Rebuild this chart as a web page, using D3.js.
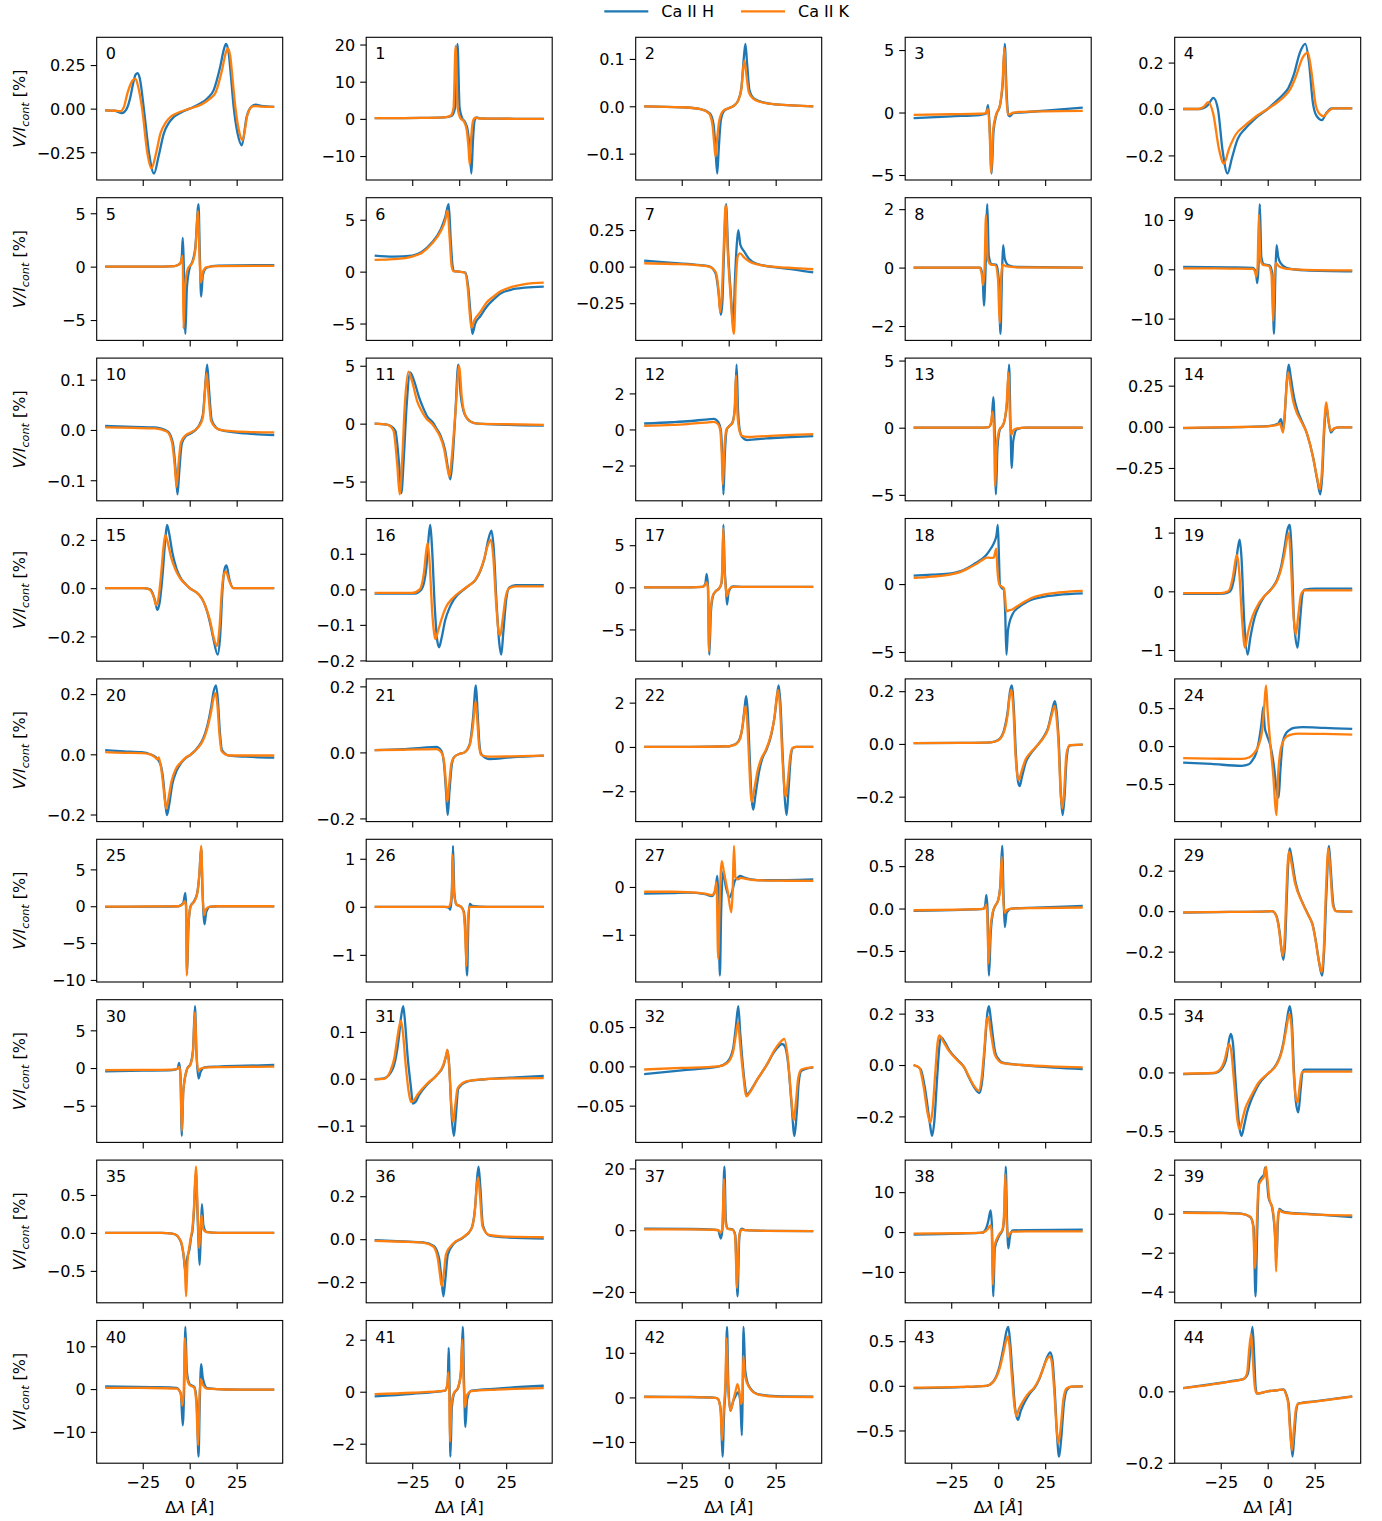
<!DOCTYPE html>
<html><head><meta charset="utf-8">
<script src="https://cdn.jsdelivr.net/npm/d3@7"></script>
<style>
body{margin:0;background:#fff}
svg{display:block}
text{font-family:"DejaVu Sans",sans-serif;fill:#000}
</style>
</head><body>
<svg id="c" width="1382" height="1521"></svg>
<script>
const seriesNames = ["Ca II H", "Ca II K"];
const seriesColors = ["#1f77b4", "#ff7f0e"];
const xTickValues = [-25, 0, 25];
const xLabelText = ["Δ", "λ", " [", "Å", "]"];
const yLabelParts = ["V/I", "cont", " [%]"];

const yTickLabels = [
 ["−0.25","0.00","0.25"],["−10","0","10","20"],["−0.1","0.0","0.1"],["−5","0","5"],["−0.2","0.0","0.2"],
 ["−5","0","5"],["−5","0","5"],["−0.25","0.00","0.25"],["−2","0","2"],["−10","0","10"],
 ["−0.1","0.0","0.1"],["−5","0","5"],["−2","0","2"],["−5","0","5"],["−0.25","0.00","0.25"],
 ["−0.2","0.0","0.2"],["−0.2","−0.1","0.0","0.1"],["−5","0","5"],["−5","0"],["−1","0","1"],
 ["−0.2","0.0","0.2"],["−0.2","0.0","0.2"],["−2","0","2"],["−0.2","0.0","0.2"],["−0.5","0.0","0.5"],
 ["−10","−5","0","5"],["−1","0","1"],["−1","0"],["−0.5","0.0","0.5"],["−0.2","0.0","0.2"],
 ["−5","0","5"],["−0.1","0.0","0.1"],["−0.05","0.00","0.05"],["−0.2","0.0","0.2"],["−0.5","0.0","0.5"],
 ["−0.5","0.0","0.5"],["−0.2","0.0","0.2"],["−20","0","20"],["−10","0","10"],["−4","−2","0","2"],
 ["−10","0","10"],["−2","0","2"],["−10","0","10"],["−0.5","0.0","0.5"],["−0.2","0.0"]
];

// Ca II H profiles: [Δλ (Å), V/I (%)]
const caH = [
 [[-45,-0.01],[-40,-0.012],[-36,-0.025],[-33.5,0.0],[-31.5,0.07],[-30,0.15],[-28.8,0.195],[-27.7,0.203],[-26.5,0.17],[-24.3,-0.01],[-21.6,-0.258],[-19,-0.372],[-16.5,-0.27],[-13.8,-0.143],[-11,-0.08],[-8.5,-0.048],[-4.1,-0.019],[0,0],[5.6,0.029],[9.5,0.06],[12.7,0.105],[16.2,0.239],[18.2,0.34],[19.3,0.372],[20.6,0.33],[22,0.18],[23.4,0.01],[25.5,-0.143],[27.7,-0.21],[30.3,-0.048],[33,0.013],[35.2,0.023],[38,0.016],[45,0.01]],
 [[-45,0.2],[-20,0.25],[-8,0.4],[-4,0.8],[-2.2,3],[-0.9,20.2],[0.2,3],[1.5,0.3],[3,-0.8],[4.5,-3],[5.7,-9],[6.5,-14.7],[7.3,-6],[8.2,-0.5],[9.3,0.4],[11,0.15],[20,0.05],[45,0]],
 [[-45,0.0],[-25,-0.002],[-15,-0.006],[-10,-0.015],[-8,-0.04],[-6.9,-0.1],[-6.1,-0.142],[-5.3,-0.09],[-4.2,-0.03],[-2.5,-0.01],[0,-0.004],[3,0.002],[5,0.012],[6.8,0.04],[8,0.1],[8.9,0.132],[9.8,0.09],[11,0.035],[13,0.018],[17,0.01],[25,0.004],[45,0.0]],
 [[-45,-0.45],[-25,-0.3],[-10,-0.2],[-6.5,-0.1],[-5.4,0.6],[-4.6,-1],[-3.5,-4.88],[-2.5,-1.5],[-1,-0.2],[1,0.6],[2.5,2.5],[3.5,5.5],[4.5,1.5],[5.4,-0.2],[6.3,-0.3],[8,-0.05],[12,0.0],[25,0.15],[45,0.4]],
 [[-45,0.0],[-36,0.0],[-32,0.015],[-28.9,0.048],[-26.5,0.0],[-24,-0.18],[-21.4,-0.278],[-19,-0.21],[-16,-0.13],[-12,-0.085],[-9.3,-0.062],[-5,-0.03],[0,0.0],[4,0.03],[8,0.06],[11,0.09],[14,0.15],[17,0.24],[20,0.281],[22,0.2],[24,0.03],[26,-0.03],[28.9,-0.048],[31,-0.02],[34,0.003],[45,0.003]],
 [[-45,0.0],[-20,0.0],[-8,0.05],[-5,0.3],[-4.2,1.0],[-3.7,2.7],[-3.2,0.5],[-2.3,-6.3],[-1.5,-2],[0,-0.1],[1.5,0.5],[3,1.8],[4.7,5.85],[5.4,1.0],[6.1,-2.8],[7,-0.8],[9,-0.1],[15,0.1],[45,0.15]],
 [[-45,1.55],[-35,1.45],[-25,1.55],[-20,1.9],[-14.5,2.8],[-9.8,4.1],[-7.5,5.2],[-5.6,6.5],[-4.5,3],[-3.5,0.5],[-2.8,0.05],[0,0.0],[3.3,-0.1],[4.8,-1.5],[6,-4],[7,-6.0],[8.5,-5],[11.2,-4.3],[14.5,-3.4],[18.2,-2.7],[22,-2.1],[27.5,-1.75],[35,-1.55],[45,-1.45]],
 [[-45,0.041],[-30,0.025],[-15,0.01],[-10,0.0],[-7,-0.045],[-5.2,-0.2],[-4.2,-0.33],[-3.4,-0.25],[-2.5,0.1],[-1.4,0.427],[-0.3,0.1],[1.2,-0.2],[2.4,-0.41],[3.3,-0.1],[4.3,0.15],[5.1,0.25],[6.2,0.15],[8.4,0.1],[11,0.05],[15.4,0.018],[25,-0.005],[35,-0.02],[45,-0.04]],
 [[-45,0.0],[-15,0.0],[-9.5,0.0],[-8.3,-0.3],[-7.6,-1.3],[-6.8,-0.2],[-5.8,2.17],[-5,0.4],[-3.5,0.12],[-1,0.1],[0.3,-0.4],[1.2,-2.27],[2,-0.3],[2.6,0.77],[3.5,0.3],[5.5,0.08],[10,0.02],[45,0.0]],
 [[-45,0.5],[-20,0.4],[-8,0.3],[-6.3,-0.5],[-5.6,-2.8],[-4.9,0.5],[-4.2,13.2],[-3.4,2.5],[-2,1.0],[1,0.8],[2.5,-1],[3.3,-13.1],[4.1,-1],[4.7,4.9],[5.6,2.5],[7,1.2],[10,0.3],[20,-0.2],[45,-0.4]],
 [[-45,0.008],[-30,0.006],[-18.6,0.005],[-11.7,-0.003],[-8.9,-0.027],[-7.5,-0.08],[-6.5,-0.128],[-5.5,-0.08],[-4.2,-0.027],[-2,-0.012],[0,-0.008],[4.7,0.007],[7,0.03],[8.3,0.09],[9.3,0.13],[10.3,0.08],[11.7,0.02],[14,0.005],[16.3,0.0],[30,-0.007],[45,-0.01]],
 [[-45,0.0],[-38,-0.1],[-34,-0.6],[-32,-3.5],[-30.8,-6.0],[-29.5,-3],[-28,1.5],[-26.1,4.43],[-24,3.7],[-21.4,2.3],[-19,1.3],[-16.8,0.57],[-14,0.1],[-12.1,-0.43],[-10,-1.0],[-7.5,-2.3],[-5.8,-4.0],[-4.7,-4.8],[-3.5,-3],[-2,1.0],[-0.5,5.1],[0.8,2.5],[2.8,0.86],[6.5,0.14],[10,0.0],[25,-0.1],[45,-0.17]],
 [[-45,0.33],[-30,0.4],[-20,0.47],[-12.6,0.55],[-7.9,0.59],[-5.5,0.4],[-4.2,-0.04],[-3.4,-1.5],[-2.8,-3.6],[-2.1,-1.5],[-1,0.0],[0,0.15],[2,0.4],[3.3,1.2],[4.2,3.6],[5,1.0],[6,-0.1],[7,-0.4],[9.8,-0.59],[14,-0.55],[20,-0.5],[30,-0.44],[45,-0.37]],
 [[-45,0.0],[-10,0.0],[-5,0.05],[-3.5,0.5],[-2.6,2.28],[-1.9,0.0],[-1.2,-4.96],[-0.4,-1.5],[1,-0.1],[2.1,0.07],[3.5,0.6],[4.8,2.0],[5.8,4.7],[6.5,0.5],[7.2,-3.0],[8,-1.0],[10,-0.1],[15,0.0],[45,0.0]],
 [[-45,-0.008],[-20,-0.003],[0,0.004],[5.6,0.02],[7,0.047],[8.4,-0.014],[9.5,0.15],[10.3,0.3],[11.2,0.378],[12.3,0.3],[14,0.18],[15.8,0.1],[17.7,0.047],[21,-0.045],[24.2,-0.187],[26.5,-0.33],[28,-0.41],[29,-0.3],[30.2,0.0],[31.2,0.128],[32.3,0.04],[33.6,-0.035],[35.5,-0.01],[38,-0.004],[45,-0.004]],
 [[-45,0.0],[-25,0.0],[-21,-0.005],[-18.5,-0.05],[-17.2,-0.09],[-16,-0.06],[-14.5,0.05],[-13,0.2],[-12.1,0.262],[-11,0.23],[-9.3,0.15],[-7,0.08],[-4.7,0.041],[-2,0.015],[0,0.0],[4.7,-0.025],[7,-0.05],[9.3,-0.097],[11,-0.15],[12.6,-0.21],[14.9,-0.276],[16.2,-0.2],[17.5,0.0],[18.6,0.08],[19.6,0.094],[21,0.04],[23.3,0.0],[30,0.0],[45,0.0]],
 [[-45,-0.012],[-30,-0.012],[-23.8,-0.012],[-20,0.0],[-17.5,0.06],[-16.2,0.15],[-15.4,0.181],[-14.5,0.12],[-13,-0.05],[-11.8,-0.14],[-10.7,-0.163],[-9.5,-0.14],[-7.5,-0.088],[-5,-0.05],[-2.8,-0.028],[1.9,-0.003],[5,0.01],[8.9,0.028],[11.5,0.055],[13.5,0.088],[15.5,0.14],[17.2,0.165],[18.3,0.12],[20,-0.05],[21.3,-0.15],[22.4,-0.184],[23.5,-0.12],[25,-0.03],[26.6,0.005],[30,0.012],[45,0.012]],
 [[-45,0.0],[-20,0.0],[-14,0.05],[-12.5,0.4],[-11.7,1.58],[-11,0.0],[-10.3,-8.0],[-9.5,-3],[-8.3,-1.0],[-7,-0.5],[-5,-0.1],[-3.8,0.5],[-3.3,2.5],[-2.8,7.4],[-2.2,2.5],[-1.5,0.0],[-0.9,-2.05],[0,-0.5],[2.3,0.1],[8,0.05],[45,0.05]],
 [[-45,0.62],[-35,0.7],[-25,0.79],[-20,0.95],[-15.6,1.24],[-12,1.55],[-8.6,1.86],[-6,2.2],[-4,2.6],[-2,3.1],[-0.9,3.6],[-0.2,4.35],[0.4,2],[0.9,-0.05],[2,-0.3],[3,-0.4],[3.7,-2],[4.4,-5.2],[5.2,-3.4],[7.7,-2.2],[11,-1.7],[14.7,-1.36],[19,-1.1],[24,-0.94],[32,-0.8],[45,-0.69]],
 [[-45,-0.045],[-30,-0.045],[-23.3,-0.04],[-20,0.0],[-17.5,0.3],[-15.8,0.75],[-14.9,0.88],[-14,0.6],[-12.5,-0.5],[-10.7,-1.08],[-9.3,-0.8],[-7,-0.45],[-4.7,-0.25],[-2.3,-0.11],[2.3,0.057],[5,0.2],[7,0.4],[9,0.75],[10.5,1.05],[11.7,1.13],[12.7,0.7],[14,-0.5],[15.9,-0.96],[17.2,-0.5],[18.5,-0.05],[19.6,0.03],[25,0.045],[45,0.045]],
 [[-45,0.014],[-35,0.01],[-25.6,0.007],[-21,0.0],[-18,-0.01],[-15.4,-0.036],[-14,-0.09],[-13,-0.16],[-12.1,-0.202],[-11,-0.17],[-9.3,-0.1],[-7,-0.055],[-4.7,-0.03],[-2,-0.012],[0,-0.004],[4.7,0.026],[7,0.05],[9.3,0.092],[11.5,0.16],[12.8,0.21],[14,0.229],[15,0.18],[16,0.08],[17.2,0.014],[21,-0.004],[30,-0.008],[45,-0.011]],
 [[-45,0.007],[-30,0.01],[-20,0.014],[-12.1,0.017],[-9.5,0.005],[-8,-0.04],[-7,-0.12],[-6.1,-0.19],[-5.2,-0.12],[-4,-0.04],[-2.8,-0.015],[0,-0.005],[2.8,0.0],[5.6,0.025],[7.3,0.1],[8.9,0.203],[9.8,0.12],[10.7,0.03],[11.7,-0.005],[15.9,-0.02],[27.5,-0.015],[45,-0.01]],
 [[-45,0.0],[-20,0.0],[0,0.03],[1.4,0.06],[4,0.15],[6,0.4],[7.5,1.0],[8.5,1.8],[9.3,2.29],[10.2,1.5],[11.2,-0.5],[12.2,-2.3],[13.1,-2.83],[14.2,-2.2],[16.3,-1.05],[18,-0.5],[20,-0.15],[22.8,0.6],[24.5,1.4],[25.7,2.3],[26.6,2.78],[27.5,2.0],[28.8,-0.5],[30,-2.5],[30.8,-3.08],[31.8,-2.0],[33,-0.5],[34,-0.07],[36,0.0],[45,0.0]],
 [[-45,0.003],[-20,0.004],[-3.9,0.006],[0,0.015],[3,0.05],[5,0.12],[6.3,0.2],[7.2,0.222],[8.2,0.15],[9.5,-0.05],[10.5,-0.14],[11.4,-0.16],[12.5,-0.13],[14.7,-0.069],[17,-0.04],[19.3,-0.019],[21.5,0.0],[24,0.025],[26.5,0.06],[28.5,0.12],[30.1,0.162],[31,0.13],[32.3,0.0],[33.4,-0.2],[34.3,-0.27],[35.3,-0.2],[36.5,-0.05],[38,-0.006],[45,-0.003]],
 [[-45,-0.217],[-30,-0.235],[-14,-0.26],[-10,-0.24],[-8.4,-0.196],[-6,-0.08],[-4.7,0.065],[-3.3,0.3],[-2.3,0.52],[-1.6,0.25],[-0.5,0.15],[1.5,0.0],[3.5,-0.3],[4.8,-0.6],[5.8,-0.68],[6.8,-0.3],[8,0.05],[9.3,0.15],[11.5,0.21],[14,0.24],[18.6,0.25],[30,0.24],[45,0.226]],
 [[-45,-0.1],[-20,-0.05],[-6,0.0],[-3.5,0.4],[-2.3,1.8],[-1.9,0.0],[-1.4,-9.15],[-0.7,-3],[0.5,0.0],[2.3,0.67],[4,1.8],[5.2,4.5],[6.1,7.9],[6.9,1.5],[7.9,-2.45],[8.8,-0.8],[10.7,-0.1],[15,0.0],[45,0.0]],
 [[-45,0.0],[-20,0.0],[-8,0.0],[-5.5,-0.02],[-4.7,-0.06],[-4,0.2],[-3.3,1.27],[-2.6,0.3],[-1.5,0.05],[1,0.0],[2.5,-0.1],[3.3,-0.5],[4.2,-1.43],[4.9,-0.3],[5.6,0.06],[7,0.02],[15,0.0],[45,0.0]],
 [[-45,-0.14],[-30,-0.13],[-21.9,-0.12],[-12.6,-0.15],[-8.9,-0.19],[-7,-0.05],[-6.1,0.23],[-5.4,-0.5],[-4.7,-1.85],[-4,-0.5],[-3,0.33],[-1.5,0.0],[0.5,-0.22],[1.8,-0.1],[3.3,0.13],[5,0.2],[6.1,0.23],[8,0.2],[12,0.16],[20,0.14],[45,0.16]],
 [[-45,-0.027],[-20,-0.015],[-8,-0.005],[-7,0.03],[-6.3,0.16],[-5.7,0.0],[-4.9,-0.79],[-4,-0.3],[-2.8,-0.05],[-1.6,0.03],[0,0.1],[1.2,0.3],[2.1,0.74],[2.8,0.2],[3.5,-0.22],[4.5,-0.05],[7,0.0],[20,0.01],[45,0.031]],
 [[-45,-0.007],[-20,-0.004],[0,-0.001],[2.3,0.0],[4.5,-0.02],[6.3,-0.1],[7.5,-0.2],[8.4,-0.24],[9.3,-0.15],[10.3,0.1],[11,0.25],[11.7,0.31],[12.6,0.27],[14.9,0.139],[18.6,0.041],[21.9,-0.024],[24,-0.07],[25.6,-0.147],[27.3,-0.25],[28.9,-0.318],[30,-0.2],[31.3,0.1],[32.6,0.323],[33.6,0.2],[35,0.03],[36.4,0.0],[45,-0.003]],
 [[-45,-0.44],[-25,-0.35],[-9.3,-0.27],[-6.5,-0.1],[-5.6,0.67],[-4.9,-1],[-4.2,-9.0],[-3.4,-3],[-1.4,-0.13],[0.5,0.6],[1.8,2.5],[2.8,8.2],[3.6,2.0],[4.7,-1.38],[5.8,-0.5],[7.9,0.09],[15,0.2],[30,0.3],[45,0.4]],
 [[-45,-0.001],[-40,0.001],[-35.4,0.021],[-33.5,0.05],[-32.2,0.085],[-31,0.13],[-29.8,0.155],[-28.8,0.12],[-27.5,0.05],[-25.6,-0.021],[-24.7,-0.053],[-23,-0.048],[-21.4,-0.035],[-16.8,-0.011],[-12.1,0.007],[-8.4,0.028],[-7,0.048],[-6.1,0.06],[-5.2,0.02],[-4,-0.08],[-2.8,-0.122],[-1.8,-0.08],[-0.5,-0.021],[4.2,-0.006],[13.5,-0.001],[30,0.003],[45,0.006]],
 [[-45,-0.0098],[-25,-0.005],[-5.6,-0.0004],[-0.9,0.005],[2.3,0.022],[3.8,0.05],[5.1,0.0766],[6.2,0.04],[7.9,-0.0077],[9,-0.03],[9.8,-0.0366],[11,-0.033],[15.4,-0.016],[20,0.0009],[24.7,0.02],[28.4,0.0285],[30,0.025],[31.8,0.0],[33.5,-0.05],[35,-0.0885],[36.2,-0.06],[37.3,-0.02],[38.7,-0.0055],[45,-0.0013]],
 [[-45,0.0],[-41.3,-0.016],[-38.9,-0.094],[-36.5,-0.22],[-35.2,-0.276],[-34,-0.22],[-32.5,-0.05],[-31.2,0.08],[-30.5,0.108],[-28.5,0.09],[-25.9,0.056],[-21.2,0.017],[-18,-0.01],[-15.6,-0.048],[-12.5,-0.09],[-10,-0.109],[-8.5,-0.06],[-7,0.08],[-5.8,0.2],[-4.9,0.229],[-3.8,0.17],[-1.6,0.05],[0.5,0.02],[3,0.008],[12.4,0.0],[30,-0.01],[45,-0.016]],
 [[-45,-0.014],[-28,-0.006],[-25,0.02],[-22,0.12],[-20.5,0.28],[-19.6,0.327],[-18.5,0.25],[-17,-0.1],[-15.2,-0.45],[-14,-0.54],[-12.5,-0.45],[-11,-0.34],[-9.3,-0.256],[-7,-0.17],[-4.7,-0.1],[0,-0.014],[4.7,0.071],[7,0.16],[8.4,0.256],[10,0.42],[11.7,0.563],[12.8,0.45],[14,0.0],[15,-0.25],[16.3,-0.34],[17.5,-0.15],[18.5,0.0],[19.6,0.023],[25,0.023],[45,0.023]],
 [[-45,0.0],[-15,0.0],[-9.3,-0.01],[-7,-0.03],[-5.6,-0.074],[-4.3,-0.15],[-3.3,-0.29],[-2.3,-0.51],[-1.5,-0.35],[0,-0.2],[0.8,-0.05],[1.4,0.013],[2.3,0.3],[3.3,0.8],[4.1,0.3],[4.8,-0.2],[5.3,-0.42],[5.9,0.0],[6.5,0.38],[7.3,0.1],[8.9,0.013],[15,0.0],[45,0.0]],
 [[-45,-0.005],[-30,-0.01],[-19.1,-0.015],[-13.5,-0.031],[-10.7,-0.089],[-9.5,-0.18],[-8.4,-0.266],[-7.3,-0.18],[-6.1,-0.074],[-2.8,-0.02],[1.9,0.006],[6.5,0.049],[8.5,0.15],[9.5,0.28],[10.3,0.338],[11.2,0.25],[12.6,0.065],[15.9,0.018],[25,0.008],[45,0.003]],
 [[-45,0.5],[-20,0.4],[-8,0.2],[-5.6,0.0],[-4.2,-2.7],[-3.3,0.5],[-2.3,20.6],[-1.5,3],[-0.5,0.5],[2,0.3],[3.5,-1.5],[4.7,-21.4],[5.6,-3],[6.3,0.0],[7,0.5],[9,0.0],[20,-0.2],[45,-0.3]],
 [[-45,-0.66],[-20,-0.4],[-8.6,-0.17],[-6.5,0.8],[-5.4,2.5],[-4,5.4],[-3.3,1.0],[-2.6,-16.1],[-1.8,-4],[0.7,-0.8],[2.5,0.8],[3.3,5],[4,16.4],[4.7,3],[5.4,-4.1],[6.3,-1],[7.7,0.4],[15,0.5],[45,0.58]],
 [[-45,0.085],[-25,0.05],[-14,0.0],[-9.3,-0.17],[-7.5,-0.7],[-6.5,-4.24],[-5.6,-1.0],[-4.7,1.6],[-3.3,1.86],[-1.9,2.03],[-1.4,2.37],[-0.7,2.0],[0.5,0.8],[2.3,0.34],[3.7,-0.8],[4.7,-2.29],[5.4,-0.5],[6.1,0.25],[7.5,0.15],[9.3,0.085],[20,0.0],[45,-0.17]],
 [[-45,0.6],[-20,0.45],[-7,0.3],[-4.7,-1.15],[-3.7,-8.5],[-3,-1],[-2.3,14.5],[-1.5,4],[0,1.15],[2.5,0.5],[3.7,-3],[4.7,-15.8],[5.4,-2],[6.1,5.8],[7,2.5],[9.3,0.23],[20,-0.1],[45,-0.15]],
 [[-45,-0.18],[-25,-0.08],[-7.5,0.04],[-6.1,0.36],[-5.6,1.69],[-5.1,0.0],[-4.7,-2.5],[-3.9,-0.6],[-2.8,-0.09],[-0.5,0.17],[1,0.8],[1.9,2.49],[2.6,0.3],[3.3,-1.36],[4.2,-0.3],[6.5,0.04],[20,0.12],[45,0.23]],
 [[-45,0.2],[-20,0.1],[-7,-0.1],[-5.6,-0.37],[-4.2,-3],[-3.3,-13.3],[-2.4,-3],[-1.6,3],[-0.9,15.8],[-0.2,3],[0.9,-3.0],[2.3,-1.0],[3.7,0.37],[5,1.2],[6.2,-1],[7,-8.5],[7.4,0.0],[7.9,15.8],[8.8,6],[10.7,2.6],[15.4,0.74],[25,0.3],[45,0.2]],
 [[-45,-0.026],[-20,-0.015],[-6.3,0.0],[-2.6,0.049],[0.7,0.217],[3,0.45],[4.5,0.62],[5.4,0.659],[6.3,0.5],[7.7,0.105],[9,-0.25],[10.5,-0.382],[12,-0.28],[14.7,-0.157],[17,-0.08],[19.3,-0.026],[22,0.08],[24,0.2],[26,0.32],[27.7,0.375],[28.8,0.3],[30.2,-0.1],[31.3,-0.55],[32.4,-0.794],[33.5,-0.6],[35,-0.2],[36.6,-0.045],[39,-0.01],[45,-0.007]],
 [[-45,0.009],[-30,0.02],[-20,0.028],[-12.7,0.035],[-10.5,0.05],[-9.2,0.12],[-8.1,0.18],[-7.2,0.1],[-6.4,0.01],[-5.6,-0.0065],[0,0.0],[5,0.003],[8.5,0.0056],[10,-0.01],[11.1,-0.034],[12.2,-0.12],[13.2,-0.183],[14.2,-0.12],[15.3,-0.05],[16.4,-0.034],[25,-0.028],[35,-0.021],[45,-0.014]]
];

// Ca II K profiles: [Δλ (Å), V/I (%)]
const caK = [
 [[-45,-0.01],[-40,-0.012],[-36.9,-0.015],[-35,0.01],[-33.2,0.086],[-30.5,0.16],[-28.9,0.172],[-27.5,0.13],[-25.2,-0.01],[-22.5,-0.258],[-20.4,-0.343],[-18,-0.26],[-15.6,-0.143],[-12.8,-0.08],[-10.3,-0.048],[-5,-0.018],[0,0],[6.5,0.025],[10.5,0.055],[13.7,0.09],[17.2,0.22],[19.2,0.32],[20.3,0.345],[21.6,0.3],[23,0.15],[24.3,0.01],[26.3,-0.13],[28.1,-0.181],[30.7,-0.038],[33.4,0.013],[35.5,0.015],[38,0.012],[45,0.01]],
 [[-45,0.2],[-20,0.25],[-8,0.4],[-4.5,0.9],[-3,3],[-1.9,19.6],[-0.8,3],[0.5,0.3],[2.5,-0.7],[4,-3],[5,-8],[5.6,-12.3],[6.4,-5],[7.4,-0.5],[8.6,0.3],[11,0.1],[20,0.05],[45,0]],
 [[-45,0.0],[-25,-0.002],[-15,-0.006],[-10.5,-0.015],[-8.6,-0.04],[-7.7,-0.08],[-7,-0.106],[-6.2,-0.07],[-5,-0.03],[-3,-0.01],[0,-0.004],[3,0.002],[5,0.012],[6.7,0.035],[7.7,0.08],[8.4,0.096],[9.3,0.07],[10.7,0.03],[13,0.016],[17,0.009],[25,0.004],[45,0.0]],
 [[-45,-0.19],[-25,-0.14],[-10,-0.1],[-6.5,-0.05],[-5.5,0.3],[-4.7,-1],[-3.7,-4.8],[-2.7,-1.4],[-1.2,-0.2],[0.8,0.5],[2.3,2.4],[3.3,5.13],[4.3,1.4],[5.2,-0.1],[6,-0.15],[8,0.0],[12,0.05],[25,0.1],[45,0.13]],
 [[-45,0.0],[-37,0.0],[-34,0.01],[-31.7,0.03],[-29,-0.02],[-26,-0.17],[-23.3,-0.235],[-20.5,-0.17],[-17,-0.11],[-12,-0.07],[-9,-0.05],[-5,-0.025],[0,0.0],[5,0.028],[9,0.055],[12,0.085],[15,0.14],[18.5,0.22],[21.4,0.243],[23.3,0.16],[25.5,0.02],[27.5,-0.02],[29.8,-0.031],[32,-0.012],[35,0.003],[45,0.003]],
 [[-45,0.0],[-20,0.0],[-8,0.05],[-5,0.3],[-4.2,0.8],[-3.7,1.0],[-3.3,-5.8],[-2.5,-2],[-1,-0.2],[1.5,0.4],[3,1.6],[4.5,5.2],[5.2,1.0],[6,-1.5],[7,-0.5],[9,-0.05],[15,0.05],[45,0.08]],
 [[-45,1.13],[-35,1.2],[-25,1.45],[-20,1.8],[-14.5,2.7],[-9.8,3.9],[-7.5,4.9],[-6.2,5.9],[-5,3],[-4,0.5],[-3,0.05],[0,0.0],[3,-0.1],[4.5,-1.5],[5.6,-4],[6.5,-5.4],[8,-4.7],[11.2,-3.9],[14.5,-3.0],[18.2,-2.4],[22,-1.9],[27.5,-1.5],[35,-1.2],[45,-1.06]],
 [[-45,0.023],[-30,0.018],[-15,0.008],[-10,-0.002],[-7,-0.035],[-5.5,-0.15],[-4.6,-0.31],[-3.7,-0.2],[-2.6,0.15],[-1.6,0.42],[-0.5,0.1],[1,-0.2],[2.8,-0.46],[3.8,-0.1],[4.8,0.07],[6,0.09],[8.4,0.06],[11,0.035],[15.4,0.015],[25,-0.002],[35,-0.01],[45,-0.018]],
 [[-45,0.0],[-15,0.0],[-10,0.0],[-8.8,-0.2],[-8.1,-0.6],[-7.3,-0.1],[-6.5,1.8],[-5.6,0.3],[-3.8,0.1],[-1.5,0.08],[-0.1,-0.4],[0.8,-1.9],[1.7,-0.2],[2.4,0.1],[4,0.05],[10,0.01],[45,0.0]],
 [[-45,0.2],[-20,0.15],[-8,0.1],[-6.8,-0.4],[-6.1,-1.5],[-5.4,0.5],[-4.7,11.1],[-3.9,2.2],[-2.5,0.9],[0.5,0.7],[2,-1],[2.9,-10.5],[3.7,-1],[4.4,1.3],[5.5,0.8],[7,0.4],[10,0.1],[20,-0.1],[45,-0.2]],
 [[-45,0.005],[-30,0.004],[-18.6,0.003],[-12.2,-0.003],[-9.4,-0.025],[-8,-0.07],[-7,-0.113],[-6,-0.07],[-4.7,-0.025],[-2,-0.01],[0,-0.006],[4.7,0.006],[7,0.025],[8.2,0.08],[9,0.113],[10,0.07],[11.4,0.018],[14,0.004],[16.3,0.0],[30,-0.004],[45,-0.005]],
 [[-45,0.0],[-38,-0.1],[-35,-0.6],[-33,-3.5],[-31.7,-6.1],[-30.3,-3],[-29,1.5],[-27,4.5],[-25,3.6],[-22.3,1.9],[-20,1.1],[-17.5,0.45],[-14.5,0.0],[-12.5,-0.45],[-10.5,-1.0],[-8,-2.2],[-6.3,-3.8],[-5.2,-4.57],[-4,-3],[-2,1.0],[0,5.0],[1.3,2.4],[3.3,0.7],[7,0.1],[10,0.0],[25,-0.05],[45,-0.1]],
 [[-45,0.2],[-30,0.25],[-20,0.32],[-12.6,0.38],[-7.9,0.42],[-5.7,0.3],[-4.5,-0.04],[-3.7,-1.4],[-3.1,-3.06],[-2.4,-1.3],[-1.2,0.0],[0,0.15],[2,0.35],[3.1,1.0],[3.9,3.0],[4.7,0.8],[5.8,-0.1],[7,-0.35],[9.8,-0.42],[14,-0.4],[20,-0.37],[30,-0.32],[45,-0.26]],
 [[-45,0.0],[-10,0.0],[-5,0.05],[-3.8,0.4],[-3,1.2],[-2.3,0.0],[-1.6,-4.35],[-0.8,-1.3],[0.8,-0.1],[1.8,0.05],[3.3,0.5],[4.5,1.8],[5.5,4.1],[6.3,0.5],[7,-0.55],[8,-0.2],[10,-0.05],[15,0.0],[45,0.0]],
 [[-45,-0.006],[-20,-0.002],[0,0.003],[5,0.012],[6.5,0.02],[8.2,-0.035],[9.3,0.12],[10,0.25],[10.9,0.33],[12,0.26],[13.5,0.16],[15.5,0.085],[17.5,0.04],[21,-0.045],[24,-0.18],[26.3,-0.31],[27.8,-0.38],[28.8,-0.28],[30,0.0],[31.2,0.148],[32.2,0.05],[33.6,-0.025],[35.5,-0.008],[38,-0.003],[45,-0.003]],
 [[-45,0.0],[-25,0.0],[-21.5,-0.005],[-19,-0.04],[-17.9,-0.07],[-16.8,-0.05],[-15.3,0.05],[-13.8,0.18],[-13,0.22],[-11.7,0.19],[-10,0.13],[-7.5,0.075],[-5,0.04],[-2,0.015],[0,0.0],[4.7,-0.025],[7,-0.05],[9.3,-0.095],[11,-0.14],[12.6,-0.2],[14.5,-0.24],[15.8,-0.17],[17.2,0.0],[18.3,0.06],[19.3,0.069],[21,0.03],[23.3,0.0],[30,0.0],[45,0.0]],
 [[-45,-0.01],[-30,-0.01],[-25,-0.01],[-21,0.0],[-18.7,0.05],[-17.5,0.11],[-16.8,0.13],[-15.8,0.08],[-14.3,-0.07],[-13.3,-0.125],[-12.6,-0.14],[-11.4,-0.12],[-9.5,-0.085],[-7,-0.05],[-3.5,-0.025],[1.5,-0.003],[5,0.01],[8.5,0.026],[11,0.05],[13,0.08],[15,0.12],[16.8,0.14],[18,0.1],[19.8,-0.05],[21,-0.12],[21.9,-0.13],[23,-0.09],[24.8,-0.02],[26.6,0.003],[30,0.008],[45,0.008]],
 [[-45,0.0],[-20,0.0],[-14,0.05],[-12.5,0.3],[-11.8,0.6],[-11.1,0.0],[-10.5,-7.6],[-9.7,-3],[-8.5,-1.0],[-7,-0.5],[-5,-0.1],[-3.9,0.5],[-3.4,2.5],[-2.9,7.0],[-2.3,2.5],[-1.6,0.0],[-1,-1.07],[0,-0.3],[2.3,0.05],[8,0.05],[45,0.05]],
 [[-45,0.45],[-35,0.55],[-25,0.72],[-20,0.9],[-15.6,1.18],[-12,1.45],[-8.6,1.75],[-6,1.95],[-4,1.93],[-2.4,1.95],[-1,2.6],[-0.4,1.0],[0.7,-0.05],[2,-0.2],[3,-0.3],[3.8,-1.2],[4.3,-2.0],[5.5,-1.95],[7.7,-1.85],[11,-1.55],[14.7,-1.25],[19,-0.95],[24,-0.78],[32,-0.62],[45,-0.5]],
 [[-45,-0.03],[-30,-0.03],[-25,-0.03],[-21,0.0],[-18.5,0.25],[-17,0.55],[-16.3,0.62],[-15.2,0.35],[-13.6,-0.5],[-12.1,-0.96],[-10.5,-0.7],[-8,-0.42],[-5,-0.22],[-2.3,-0.1],[2.3,0.05],[5,0.18],[7,0.36],[9,0.65],[10.3,0.9],[11.2,0.99],[12.2,0.6],[13.5,-0.3],[15,-0.74],[16.3,-0.4],[17.8,-0.05],[19.6,0.015],[25,0.017],[45,0.017]],
 [[-45,0.007],[-35,0.005],[-25.6,0.004],[-21,0.0],[-18.5,-0.01],[-17.2,-0.016],[-16.5,-0.01],[-15.5,-0.035],[-14.3,-0.09],[-13.3,-0.15],[-12.5,-0.18],[-11.4,-0.15],[-9.7,-0.09],[-7.5,-0.05],[-4.7,-0.027],[-2,-0.01],[0,-0.003],[4.7,0.024],[7,0.045],[9.3,0.085],[11.5,0.145],[12.8,0.19],[13.8,0.203],[14.8,0.16],[15.8,0.07],[17,0.01],[21,-0.004],[30,-0.004],[45,-0.004]],
 [[-45,0.007],[-30,0.008],[-20,0.009],[-12.1,0.01],[-9.5,0.0],[-8,-0.03],[-7,-0.1],[-6.3,-0.15],[-5.4,-0.1],[-4.2,-0.035],[-2.8,-0.015],[0,-0.005],[2.8,0.0],[5.6,0.022],[7.3,0.08],[8.7,0.155],[9.6,0.1],[10.5,0.025],[11.7,-0.008],[15.9,-0.013],[27.5,-0.012],[45,-0.01]],
 [[-45,0.0],[-20,0.0],[0,0.03],[1.4,0.05],[4,0.13],[6,0.35],[7.3,0.9],[8.2,1.5],[8.9,1.83],[9.8,1.2],[10.8,-0.5],[11.7,-2.1],[12.3,-2.48],[13.4,-2.0],[15.6,-1.0],[17.5,-0.5],[19.7,-0.15],[22.5,0.55],[24.3,1.3],[25.5,2.2],[26.4,2.56],[27.3,1.8],[28.6,-0.5],[29.8,-2.0],[30.5,-2.26],[31.5,-1.5],[32.8,-0.4],[34,-0.05],[36,0.0],[45,0.0]],
 [[-45,0.003],[-20,0.004],[-4,0.006],[0,0.014],[3,0.045],[5,0.11],[6.1,0.18],[7,0.206],[8,0.14],[9.2,-0.04],[10.2,-0.12],[11,-0.137],[12.2,-0.11],[14.5,-0.06],[17,-0.035],[19.3,-0.017],[21.5,0.0],[24,0.022],[26.5,0.055],[28.5,0.11],[30,0.144],[30.9,0.11],[32.1,0.0],[33.2,-0.18],[34.1,-0.244],[35.1,-0.18],[36.3,-0.04],[38,-0.005],[45,-0.003]],
 [[-45,-0.16],[-30,-0.165],[-14,-0.17],[-10,-0.15],[-7.5,-0.1],[-4.7,0.02],[-3,0.2],[-1.9,0.5],[-0.9,0.8],[0,0.45],[1.5,0.0],[3,-0.4],[4.1,-0.8],[4.7,-0.91],[5.5,-0.4],[6.5,-0.11],[8,0.05],[10.3,0.13],[13,0.155],[16.3,0.165],[30,0.16],[45,0.15]],
 [[-45,-0.05],[-20,-0.03],[-6,0.0],[-3.6,0.3],[-2.5,0.7],[-2.0,0.0],[-1.5,-9.4],[-0.8,-3],[0.5,0.0],[2.3,0.6],[4,1.7],[5.2,4.5],[6.1,8.2],[6.9,1.5],[7.7,-1.2],[8.6,-0.4],[10.7,-0.05],[15,0.0],[45,0.0]],
 [[-45,0.0],[-20,0.0],[-8,0.0],[-5.5,0.0],[-4.5,0.1],[-3.8,0.4],[-3.5,1.08],[-2.8,0.3],[-1.5,0.05],[1,0.0],[2.3,-0.1],[3.1,-0.5],[3.9,-1.23],[4.6,-0.3],[5.4,0.0],[7,0.0],[15,0.0],[45,0.0]],
 [[-45,-0.1],[-30,-0.1],[-21.9,-0.11],[-12.6,-0.14],[-8.9,-0.17],[-7.5,-0.1],[-6.5,0.1],[-5.6,-1.5],[-4.8,-0.3],[-3.7,0.54],[-2.5,0.3],[-0.5,-0.1],[1.4,-0.53],[2.1,-0.1],[2.8,0.86],[3.6,0.2],[5,0.16],[6.5,0.19],[9,0.17],[15,0.14],[30,0.13],[45,0.125]],
 [[-45,-0.02],[-20,-0.012],[-8,-0.005],[-7,0.01],[-6.3,0.05],[-5.8,-0.1],[-5.1,-0.65],[-4.2,-0.25],[-3,-0.05],[-1.6,0.03],[0,0.1],[1.1,0.25],[1.9,0.61],[2.6,0.15],[3.4,-0.05],[4.5,-0.02],[7,0.0],[20,0.005],[45,0.012]],
 [[-45,-0.006],[-20,-0.004],[0,-0.001],[2.3,0.0],[4.3,-0.018],[6,-0.09],[7.2,-0.18],[8.1,-0.22],[9,-0.14],[9.9,0.08],[10.6,0.23],[11.3,0.294],[12.2,0.26],[14.5,0.14],[18.3,0.045],[21.6,-0.02],[23.8,-0.065],[25.4,-0.14],[27.1,-0.24],[28.7,-0.302],[29.8,-0.2],[31,0.1],[32.3,0.31],[33.3,0.2],[34.7,0.03],[36.2,0.0],[45,-0.003]],
 [[-45,-0.27],[-25,-0.25],[-9.3,-0.2],[-6.5,-0.1],[-5.6,0.2],[-4.9,-1],[-4.2,-8.36],[-3.4,-3],[-1.4,-0.13],[0.5,0.5],[1.8,2.3],[2.8,7.42],[3.6,2.0],[4.6,-0.36],[5.8,-0.1],[7.9,0.05],[15,0.12],[30,0.16],[45,0.18]],
 [[-45,-0.001],[-40,0.0],[-36.5,0.018],[-34.5,0.045],[-33.2,0.08],[-32,0.11],[-31,0.124],[-30,0.1],[-28.5,0.03],[-26.8,-0.03],[-25.6,-0.05],[-24,-0.045],[-22,-0.033],[-17,-0.01],[-12.1,0.007],[-8.4,0.03],[-7,0.05],[-6.3,0.062],[-5.4,0.03],[-4.3,-0.05],[-3.2,-0.092],[-2.2,-0.06],[-0.8,-0.02],[4.2,-0.005],[13.5,-0.001],[30,0.001],[45,0.0014]],
 [[-45,-0.004],[-25,-0.002],[-5.6,0.0],[-0.9,0.004],[2.3,0.018],[3.8,0.04],[5,0.056],[6,0.03],[7.7,-0.01],[9,-0.035],[9.6,-0.038],[11,-0.034],[15.4,-0.016],[20,0.001],[24.7,0.022],[28.4,0.033],[29.6,0.035],[31.5,0.01],[33.3,-0.04],[34.6,-0.069],[35.8,-0.045],[37,-0.015],[38.7,-0.004],[45,-0.001]],
 [[-45,0.0],[-42,-0.01],[-39.8,-0.08],[-37.5,-0.19],[-36.2,-0.224],[-35,-0.18],[-33.5,-0.03],[-32.2,0.09],[-31.3,0.115],[-29.5,0.095],[-26.5,0.058],[-21.5,0.017],[-18,-0.01],[-15.6,-0.045],[-12.5,-0.085],[-10.3,-0.1],[-8.8,-0.05],[-7.3,0.07],[-6.2,0.17],[-5.2,0.186],[-4,0.13],[-1.8,0.04],[0.5,0.015],[3,0.006],[12.4,0.0],[30,-0.006],[45,-0.009]],
 [[-45,-0.01],[-29,-0.005],[-26,0.015],[-23,0.1],[-21.3,0.21],[-20.5,0.24],[-19.4,0.18],[-17.8,-0.1],[-16,-0.42],[-14.9,-0.483],[-13.5,-0.4],[-11.8,-0.3],[-9.8,-0.23],[-7.5,-0.16],[-5,-0.09],[0,-0.012],[4.7,0.065],[7,0.15],[8.4,0.24],[10,0.38],[11.5,0.497],[12.6,0.4],[13.8,0.0],[14.8,-0.2],[15.9,-0.256],[17,-0.12],[18.2,0.0],[19.6,0.006],[25,0.006],[45,0.006]],
 [[-45,0.0],[-15,0.0],[-9.3,-0.01],[-7,-0.03],[-5.6,-0.07],[-4.3,-0.14],[-3.3,-0.28],[-2.6,-0.45],[-1.9,-0.835],[-1.2,-0.4],[0,-0.15],[0.8,-0.03],[1.4,0.05],[2.3,0.35],[3.3,0.874],[4.2,0.3],[5,-0.2],[5.6,0.0],[6.3,0.23],[7.2,0.05],[8.9,0.01],[15,0.0],[45,0.0]],
 [[-45,-0.008],[-30,-0.012],[-19.5,-0.016],[-14,-0.033],[-11.5,-0.085],[-10.3,-0.16],[-9.3,-0.22],[-8.2,-0.16],[-7,-0.07],[-3.2,-0.02],[1.5,0.006],[6.3,0.045],[8.3,0.13],[9.3,0.24],[10.1,0.288],[11,0.21],[12.4,0.06],[15.9,0.02],[25,0.012],[45,0.009]],
 [[-45,0.3],[-20,0.25],[-8,0.15],[-5.6,0.0],[-4.4,-0.8],[-3.4,0.5],[-2.5,16.6],[-1.7,2.5],[-0.5,0.4],[2,0.2],[3.3,-1.5],[4.5,-18.7],[5.4,-3],[6.2,-0.3],[7,0.2],[9,0.0],[20,-0.2],[45,-0.3]],
 [[-45,-0.4],[-20,-0.3],[-8.6,-0.15],[-6.5,0.3],[-5.4,0.8],[-4.2,1.65],[-3.5,0.5],[-2.8,-13.2],[-2,-3.5],[0.5,-0.6],[2.3,0.7],[3.1,4.5],[3.8,14.5],[4.5,2.5],[5.2,-1.2],[6.1,-0.4],[7.7,0.1],[15,0.15],[45,0.17]],
 [[-45,0.05],[-25,0.03],[-14,-0.01],[-9.3,-0.15],[-7.8,-0.6],[-6.8,-2.8],[-5.9,-0.8],[-4.9,1.4],[-3.5,1.7],[-2,1.9],[-0.9,2.42],[-0.2,1.8],[1,0.7],[2.5,0.3],[3.8,-0.9],[4.5,-2.97],[5.2,-0.5],[5.9,0.2],[7.5,0.1],[9.3,0.05],[20,-0.02],[45,-0.085]],
 [[-45,0.3],[-20,0.25],[-7,0.1],[-4.9,-0.8],[-3.9,-3.85],[-3.2,-0.5],[-2.5,11.9],[-1.7,3.5],[-0.2,1.0],[2.3,0.4],[3.5,-3],[4.5,-13.1],[5.2,-2],[5.9,2.3],[6.8,1.2],[9.3,0.1],[20,-0.1],[45,-0.15]],
 [[-45,-0.09],[-25,-0.04],[-7.5,0.04],[-6.3,0.3],[-5.8,0.74],[-5.3,0.0],[-4.9,-1.93],[-4.1,-0.5],[-3,-0.08],[-0.7,0.15],[0.8,0.7],[1.7,2.0],[2.4,0.3],[3.1,-0.6],[4,-0.15],[6.5,0.02],[20,0.08],[45,0.14]],
 [[-45,0.1],[-20,0.05],[-7,-0.1],[-5.8,-0.3],[-4.4,-2.5],[-3.5,-9.6],[-2.6,-2.5],[-1.8,3],[-1.1,13.3],[-0.4,3],[0.9,-3.0],[2.5,-0.5],[3.7,1.5],[4.7,3.0],[5.8,1.0],[6.6,-1.5],[7.3,0.0],[7.8,9.3],[8.6,5],[10.7,2.4],[15.4,0.7],[25,0.2],[45,0.1]],
 [[-45,-0.02],[-20,-0.012],[-6.3,0.0],[-2.6,0.045],[0.7,0.19],[3,0.39],[4.4,0.52],[5.2,0.554],[6,0.45],[7.3,0.1],[8.6,-0.22],[9.6,-0.337],[11,-0.26],[14,-0.145],[16.5,-0.075],[19,-0.024],[21.7,0.075],[23.7,0.18],[25.7,0.29],[27.4,0.33],[28.5,0.27],[29.9,-0.08],[31,-0.45],[32,-0.644],[33.1,-0.5],[34.7,-0.15],[36.4,-0.03],[39,-0.008],[45,-0.006]],
 [[-45,0.009],[-30,0.019],[-20,0.027],[-12.9,0.034],[-11,0.05],[-9.8,0.12],[-8.8,0.161],[-7.9,0.09],[-6.8,0.01],[-5.8,-0.006],[0,0.0],[5,0.003],[8.3,0.005],[9.8,-0.01],[10.9,-0.034],[11.9,-0.11],[12.9,-0.165],[13.9,-0.11],[15,-0.05],[16.2,-0.035],[25,-0.029],[35,-0.022],[45,-0.015]]
];

// ---------- layout ----------
const W = 1382, H = 1521;
const NCOL = 5;
const L0 = 96.7, COLSTEP = 269.5, AXW = 186;
const T0 = 37.3, ROWSTEP = 160.4, AXH = 142.7;
const FS = 16, TICKLEN = 6, LW = 2.3;

const svg = d3.select("#c");
svg.append("rect").attr("width", W).attr("height", H).attr("fill", "#fff");

const allX = caH.concat(caK).flat().map(p => p[0]);
const xExt = d3.extent(allX);
const xPad = (xExt[1] - xExt[0]) * 0.05;
const x = d3.scaleLinear().domain([xExt[0] - xPad, xExt[1] + xPad]).range([0, AXW]);
const fmtX = d => d < 0 ? "\u2212" + Math.abs(d) : String(d);
const parseLbl = s => +s.replace("\u2212", "-");

const nPanels = caH.length;
const nRows = Math.ceil(nPanels / NCOL);

for (let i = 0; i < nPanels; i++) {
  const r = Math.floor(i / NCOL), c = i % NCOL;
  const g = svg.append("g").attr("transform", `translate(${L0 + c * COLSTEP},${T0 + r * ROWSTEP})`);
  const series = [caH[i], caK[i]];
  const vals = series.flat().map(p => p[1]);
  const [lo, hi] = d3.extent(vals);
  const pad = (hi - lo) * 0.05;
  const y = d3.scaleLinear().domain([lo - pad, hi + pad]).range([AXH, 0]);

  const line = d3.line().x(d => x(d[0])).y(d => y(d[1])).curve(d3.curveMonotoneX);
  series.forEach((d, k) => {
    g.append("path").attr("d", line(d)).attr("fill", "none")
      .attr("stroke", seriesColors[k]).attr("stroke-width", LW)
      .attr("stroke-linejoin", "round").attr("stroke-linecap", "butt");
  });

  // y axis
  const labels = yTickLabels[i];
  const yAxis = d3.axisLeft(y).tickValues(labels.map(parseLbl))
    .tickFormat((d, j) => labels[j]).tickSize(TICKLEN).tickPadding(5);
  const ya = g.append("g").call(yAxis);
  ya.select(".domain").remove();
  ya.selectAll("line").attr("stroke", "#000").attr("stroke-width", 1.1);
  ya.selectAll("text").attr("font-size", FS).attr("font-family", "DejaVu Sans").attr("fill", "#000").attr("dy", "0.36em");

  // x axis
  const isBottom = r === nRows - 1;
  const xAxis = d3.axisBottom(x).tickValues(xTickValues)
    .tickFormat(isBottom ? fmtX : () => "").tickSize(TICKLEN).tickPadding(7.5);
  const xa = g.append("g").attr("transform", `translate(0,${AXH})`).call(xAxis);
  xa.select(".domain").remove();
  xa.selectAll("line").attr("stroke", "#000").attr("stroke-width", 1.1);
  xa.selectAll("text").attr("font-size", FS).attr("font-family", "DejaVu Sans").attr("fill", "#000");

  // frame
  g.append("rect").attr("x", 0).attr("y", 0).attr("width", AXW).attr("height", AXH)
    .attr("fill", "none").attr("stroke", "#000").attr("stroke-width", 1.1);

  // panel label
  g.append("text").attr("x", 9).attr("y", 22).attr("font-size", FS).text(String(i));

  // y label
  if (c === 0) {
    const yl = svg.append("text")
      .attr("transform", `translate(24.5,${T0 + r * ROWSTEP + AXH / 2}) rotate(-90)`)
      .attr("text-anchor", "middle").attr("font-size", FS);
    yl.append("tspan").attr("font-style", "italic").text(yLabelParts[0]);
    yl.append("tspan").attr("font-style", "italic").attr("font-size", FS * 0.7).attr("dy", 4).text(yLabelParts[1]);
    yl.append("tspan").attr("dy", -4).text(yLabelParts[2]);
  }
  // x label
  if (isBottom) {
    const xl = svg.append("text")
      .attr("x", L0 + c * COLSTEP + AXW / 2).attr("y", T0 + r * ROWSTEP + AXH + 49.7)
      .attr("text-anchor", "middle").attr("font-size", FS);
    xl.append("tspan").text(xLabelText[0]);
    xl.append("tspan").attr("font-style", "italic").text(xLabelText[1]);
    xl.append("tspan").text(xLabelText[2]);
    xl.append("tspan").attr("font-style", "italic").text(xLabelText[3]);
    xl.append("tspan").text(xLabelText[4]);
  }
}

// legend
const legend = svg.append("g");
const legX = [604.3, 741];
seriesNames.forEach((name, k) => {
  legend.append("line").attr("x1", legX[k]).attr("x2", legX[k] + 44).attr("y1", 11.3).attr("y2", 11.3)
    .attr("stroke", seriesColors[k]).attr("stroke-width", LW);
  legend.append("text").attr("x", legX[k] + 57).attr("y", 17).attr("font-size", FS).text(name);
});
</script>
</body></html>
